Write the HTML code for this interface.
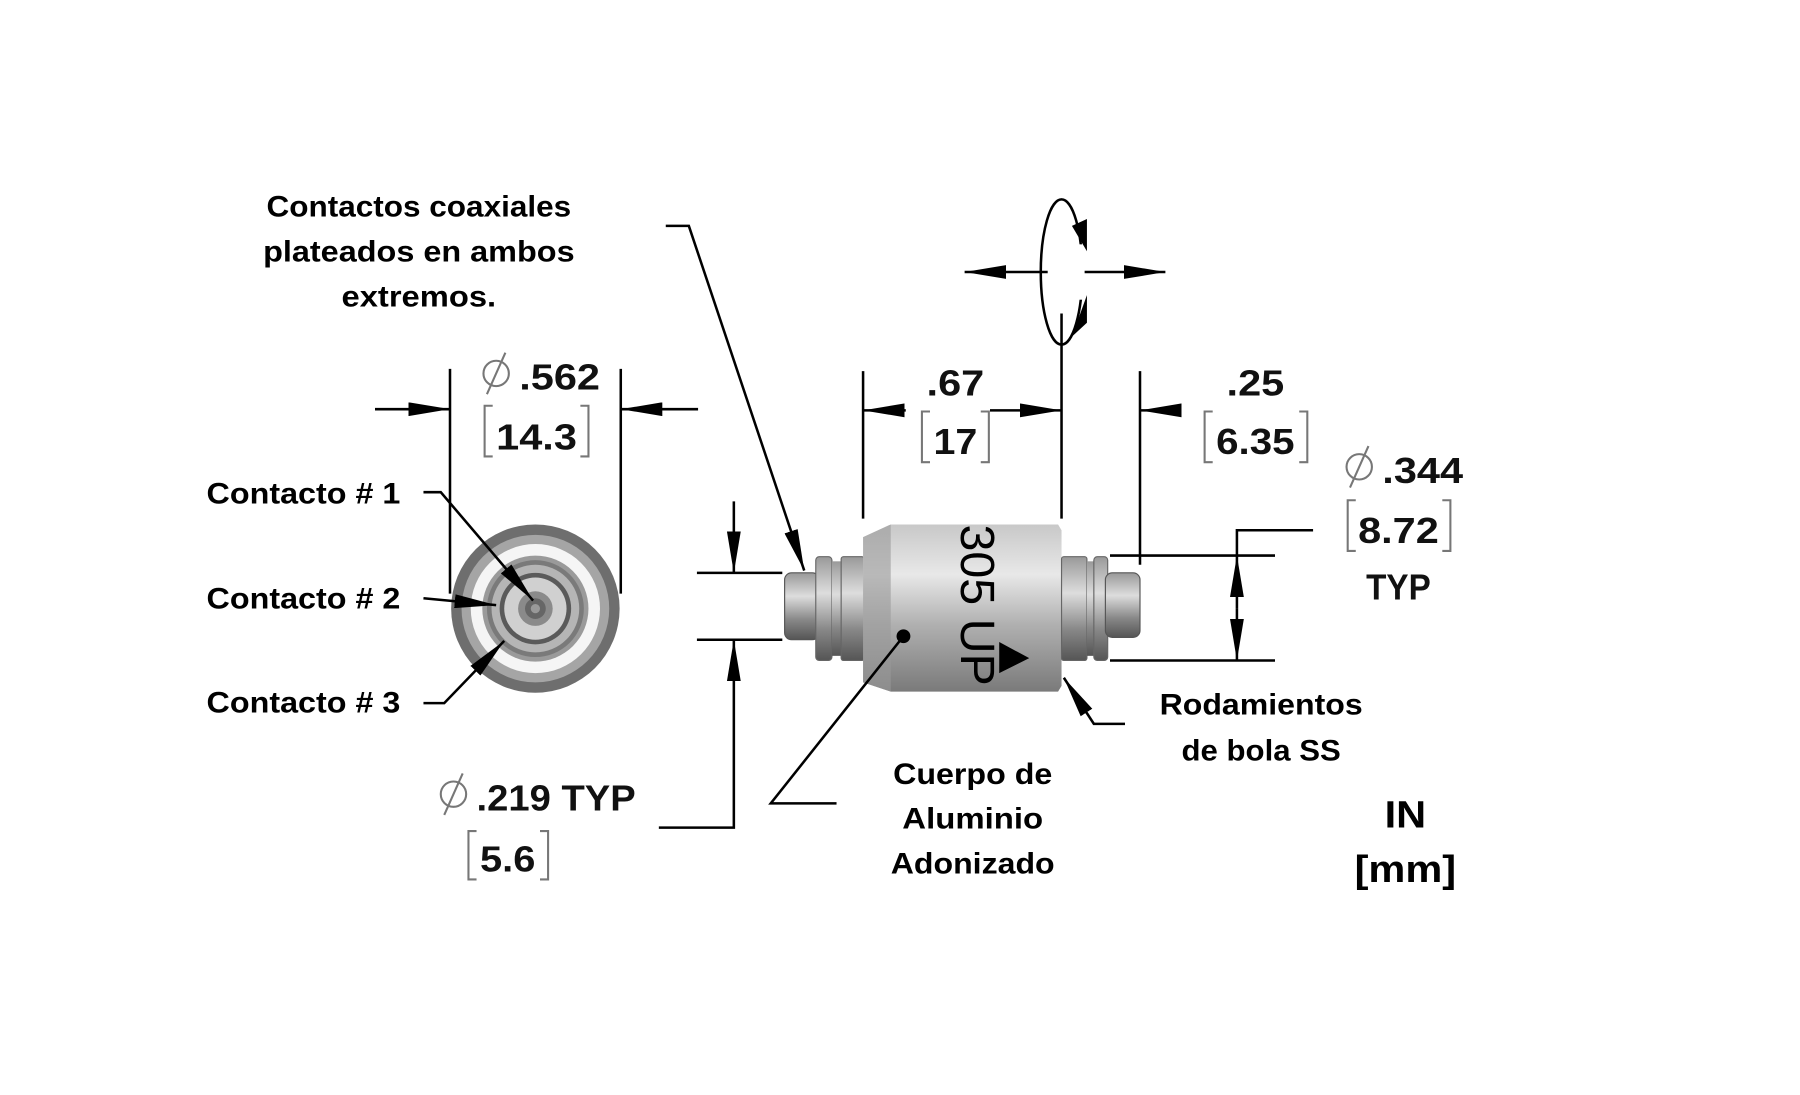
<!DOCTYPE html>
<html><head><meta charset="utf-8"><style>
html,body{margin:0;padding:0;background:#fff;}
svg{display:block;}
.t{font-family:"Liberation Sans",sans-serif;font-weight:bold;font-size:26px;fill:#000;}
.d{font-family:"Liberation Sans",sans-serif;font-weight:bold;font-size:31px;fill:#111;}
.br{fill:none;stroke:#777;stroke-width:1.8;}
.ln{stroke:#000;stroke-width:2.2;fill:none;}
</style></head><body>
<svg width="1800" height="1095" viewBox="0 0 1560 950" preserveAspectRatio="none" xmlns="http://www.w3.org/2000/svg">
<defs>
<marker id="b" viewBox="0 0 10 10" refX="10" refY="5" markerWidth="36" markerHeight="12" markerUnits="userSpaceOnUse" orient="auto" preserveAspectRatio="none">
<path d="M0,0 L10,5 L0,10 z" fill="#000"/></marker>
<linearGradient id="gb" x1="0" y1="0" x2="0" y2="1">
<stop offset="0" stop-color="#c8c8c8"/><stop offset="0.3" stop-color="#e8e8e8"/><stop offset="0.6" stop-color="#b0b0b0"/><stop offset="1" stop-color="#7a7a7a"/></linearGradient>
<linearGradient id="gs" x1="0" y1="0" x2="0" y2="1">
<stop offset="0" stop-color="#999"/><stop offset="0.35" stop-color="#ddd"/><stop offset="0.7" stop-color="#888"/><stop offset="1" stop-color="#555"/></linearGradient>
</defs>

<text class="t" x="363" y="188" text-anchor="middle" textLength="264" lengthAdjust="spacingAndGlyphs">Contactos coaxiales</text>
<text class="t" x="363" y="227" text-anchor="middle" textLength="270" lengthAdjust="spacingAndGlyphs">plateados en ambos</text>
<text class="t" x="363" y="266" text-anchor="middle" textLength="134" lengthAdjust="spacingAndGlyphs">extremos.</text>
<polyline class="ln" points="577,196 597,196 697,495" marker-end="url(#b)"/>

<line class="ln" x1="390" y1="320" x2="390" y2="515"/>
<line class="ln" x1="538" y1="320" x2="538" y2="515"/>
<line class="ln" x1="325" y1="355" x2="390" y2="355" marker-end="url(#b)"/>
<line class="ln" x1="605" y1="355" x2="538" y2="355" marker-end="url(#b)"/>
<g class="br"><circle cx="430" cy="324" r="11"/><line x1="422" y1="342" x2="438" y2="306"/></g>
<text class="d" x="450" y="338" textLength="70" lengthAdjust="spacingAndGlyphs">.562</text>
<path class="br" d="M427,352 h-7 v44 h7 M503,352 h7 v44 h-7"/>
<text class="d" x="465" y="390" text-anchor="middle" textLength="70" lengthAdjust="spacingAndGlyphs">14.3</text>

<circle cx="464" cy="528" r="73" fill="#6e6e6e"/>
<circle cx="464" cy="528" r="64" fill="#a5a5a5"/>
<circle cx="464" cy="528" r="56" fill="#f5f5f5"/>
<circle cx="464" cy="528" r="46" fill="#9a9a9a"/>
<circle cx="464" cy="528" r="42" fill="#7a7a7a"/>
<circle cx="464" cy="528" r="38" fill="#b5b5b5"/>
<circle cx="464" cy="528" r="31" fill="#5a5a5a"/>
<circle cx="464" cy="528" r="27" fill="#d0d0d0"/>
<circle cx="464" cy="528" r="15" fill="#8a8a8a"/>
<circle cx="464" cy="528" r="9" fill="#666"/>
<circle cx="464" cy="528" r="4" fill="#999"/>

<text class="t" x="179" y="437" textLength="168" lengthAdjust="spacingAndGlyphs">Contacto # 1</text>
<text class="t" x="179" y="528" textLength="168" lengthAdjust="spacingAndGlyphs">Contacto # 2</text>
<text class="t" x="179" y="618" textLength="168" lengthAdjust="spacingAndGlyphs">Contacto # 3</text>
<polyline class="ln" points="367,427 382,427 462,521" marker-end="url(#b)"/>
<polyline class="ln" points="367,519 430,525" marker-end="url(#b)"/>
<polyline class="ln" points="367,610 385,610 437,556" marker-end="url(#b)"/>

<line class="ln" x1="636" y1="435" x2="636" y2="497" marker-end="url(#b)"/>
<line class="ln" x1="604" y1="497" x2="678" y2="497"/>
<line class="ln" x1="604" y1="555" x2="678" y2="555"/>
<polyline class="ln" points="571,718 636,718 636,555" marker-end="url(#b)"/>
<g class="br"><circle cx="393" cy="689" r="11"/><line x1="385" y1="707" x2="401" y2="671"/></g>
<text class="d" x="413" y="703" textLength="138" lengthAdjust="spacingAndGlyphs">.219 TYP</text>
<path class="br" d="M413,721 h-7 v42 h7 M468,721 h7 v42 h-7"/>
<text class="d" x="440" y="756" text-anchor="middle" textLength="48" lengthAdjust="spacingAndGlyphs">5.6</text>

<rect x="680" y="497" width="30" height="58" rx="6" fill="url(#gs)" stroke="#555" stroke-width="1"/>
<rect x="707" y="483" width="14" height="90" rx="3" fill="url(#gs)" stroke="#666" stroke-width="1"/>
<rect x="721" y="487" width="8" height="82" fill="url(#gs)"/>
<rect x="729" y="483" width="20" height="90" rx="2" fill="url(#gs)" stroke="#666" stroke-width="1"/>
<path d="M748,466 L772,455 L917,455 L920,460 L920,595 L917,600 L772,600 L748,592 Z" fill="url(#gb)"/>
<path d="M748,466 L772,455 L772,600 L748,592 Z" fill="#9a9a9a" opacity="0.6"/>
<rect x="920" y="483" width="22" height="90" rx="2" fill="url(#gs)" stroke="#666" stroke-width="1"/>
<rect x="942" y="487" width="8" height="82" fill="url(#gs)"/>
<rect x="948" y="483" width="12" height="90" rx="3" fill="url(#gs)" stroke="#666" stroke-width="1"/>
<rect x="958" y="497" width="30" height="56" rx="6" fill="url(#gs)" stroke="#555" stroke-width="1"/>
<text x="0" y="0" transform="translate(833,455) rotate(90)" font-family="Liberation Sans,sans-serif" font-size="42" fill="#000" textLength="140" lengthAdjust="spacingAndGlyphs">305 UP</text>
<path d="M866,557 L892,571 L866,584 Z" fill="#000"/>
<circle cx="783" cy="552" r="6" fill="#000"/>
<polyline class="ln" points="783,552 668,697 725,697"/>

<ellipse cx="920" cy="236" rx="18" ry="63" class="ln"/>
<rect x="924" y="212" width="22" height="48" fill="#fff"/>
<path d="M929,196 L942,190 L942,218 Z" fill="#000"/>
<path d="M929,292 L942,256 L942,280 Z" fill="#000"/>
<line class="ln" x1="908" y1="236" x2="836" y2="236" marker-end="url(#b)"/>
<line class="ln" x1="940" y1="236" x2="1010" y2="236" marker-end="url(#b)"/>
<line class="ln" x1="920" y1="272" x2="920" y2="450"/>

<line class="ln" x1="748" y1="322" x2="748" y2="450"/>
<line class="ln" x1="785" y1="356" x2="748" y2="356" marker-end="url(#b)"/>
<line class="ln" x1="858" y1="356" x2="920" y2="356" marker-end="url(#b)"/>
<text class="d" x="828" y="343" text-anchor="middle" textLength="50" lengthAdjust="spacingAndGlyphs">.67</text>
<path class="br" d="M806,357 h-7 v44 h7 M850,357 h7 v44 h-7"/>
<text class="d" x="828" y="394" text-anchor="middle" textLength="38" lengthAdjust="spacingAndGlyphs">17</text>

<line class="ln" x1="988" y1="322" x2="988" y2="490"/>
<line class="ln" x1="1022" y1="356" x2="988" y2="356" marker-end="url(#b)"/>
<text class="d" x="1088" y="343" text-anchor="middle" textLength="50" lengthAdjust="spacingAndGlyphs">.25</text>
<path class="br" d="M1051,357 h-7 v44 h7 M1126,357 h7 v44 h-7"/>
<text class="d" x="1088" y="394" text-anchor="middle" textLength="68" lengthAdjust="spacingAndGlyphs">6.35</text>

<g class="br"><circle cx="1178" cy="405" r="11"/><line x1="1170" y1="423" x2="1186" y2="387"/></g>
<text class="d" x="1198" y="419" textLength="70" lengthAdjust="spacingAndGlyphs">.344</text>
<path class="br" d="M1175,434 h-7 v44 h7 M1250,434 h7 v44 h-7"/>
<text class="d" x="1212" y="471" text-anchor="middle" textLength="70" lengthAdjust="spacingAndGlyphs">8.72</text>
<text class="d" x="1212" y="520" text-anchor="middle" textLength="56" lengthAdjust="spacingAndGlyphs">TYP</text>
<polyline class="ln" points="1138,460 1072,460 1072,482"/>
<line class="ln" x1="962" y1="482" x2="1105" y2="482"/>
<line class="ln" x1="962" y1="573" x2="1105" y2="573"/>
<line class="ln" x1="1072" y1="528" x2="1072" y2="482" marker-end="url(#b)"/>
<line class="ln" x1="1072" y1="528" x2="1072" y2="573" marker-end="url(#b)"/>

<polyline class="ln" points="975,628 948,628 922,588" marker-end="url(#b)"/>
<text class="t" x="1093" y="620" text-anchor="middle" textLength="176" lengthAdjust="spacingAndGlyphs">Rodamientos</text>
<text class="t" x="1093" y="660" text-anchor="middle" textLength="138" lengthAdjust="spacingAndGlyphs">de bola SS</text>

<text class="t" x="843" y="680" text-anchor="middle" textLength="138" lengthAdjust="spacingAndGlyphs">Cuerpo de</text>
<text class="t" x="843" y="719" text-anchor="middle" textLength="122" lengthAdjust="spacingAndGlyphs">Aluminio</text>
<text class="t" x="843" y="758" text-anchor="middle" textLength="142" lengthAdjust="spacingAndGlyphs">Adonizado</text>

<text class="t" x="1218" y="718" text-anchor="middle" style="font-size:33px" textLength="36" lengthAdjust="spacingAndGlyphs">IN</text>
<text class="t" x="1218" y="765" text-anchor="middle" style="font-size:33px" textLength="88" lengthAdjust="spacingAndGlyphs">[mm]</text>
</svg>
</body></html>
